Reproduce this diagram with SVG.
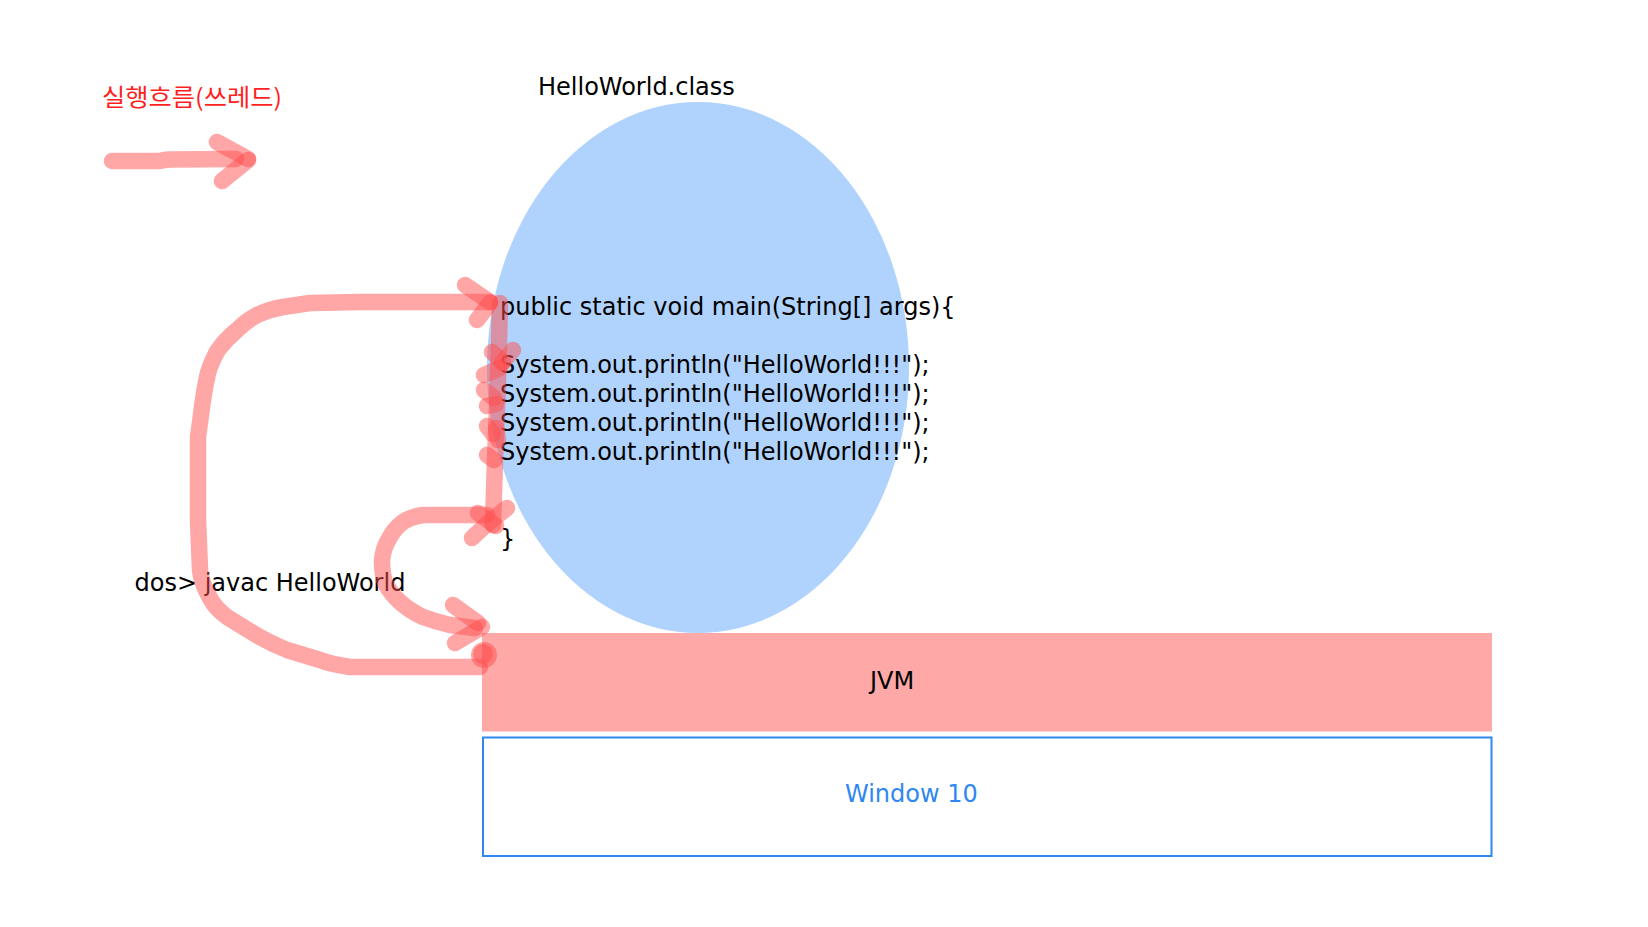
<svg xmlns="http://www.w3.org/2000/svg" width="1648" height="927" viewBox="0 0 1648 927">
<style>
text{font-family:"DejaVu Sans","Noto Sans CJK KR",sans-serif;font-size:24px;fill:#000}
.kr{font-family:"Noto Sans CJK KR","DejaVu Sans",sans-serif;fill:#ff1f1f}
.blue{fill:#2f88f0}
.flow{fill:none;stroke:#ff4d4d;stroke-opacity:0.5;stroke-width:16.5;stroke-linecap:round;stroke-linejoin:round}
.dot{fill:#ff4d4d;fill-opacity:0.5}
</style>
<rect width="1648" height="927" fill="#fff"/>
<g id="legend">
<text class="kr" x="102" y="106" textLength="180" lengthAdjust="spacingAndGlyphs">실행흐름(쓰레드)</text>
</g>
<g id="class-file">
<ellipse cx="698" cy="367.5" rx="211" ry="265.5" fill="#b0d3fd"/>
<text x="538" y="95">HelloWorld.class</text>
<text x="500" y="315">public static void main(String[] args){</text>
<text x="500" y="373">System.out.println("HelloWorld!!!");</text>
<text x="500" y="402">System.out.println("HelloWorld!!!");</text>
<text x="500" y="431">System.out.println("HelloWorld!!!");</text>
<text x="500" y="460">System.out.println("HelloWorld!!!");</text>
<text x="500" y="547">}</text>
</g>
<g id="jvm">
<rect x="482" y="633" width="1010" height="98.5" fill="#ffa8a8"/>
<text x="870" y="689">JVM</text>
</g>
<g id="windows">
<rect x="483" y="737.5" width="1008.5" height="118.5" fill="none" stroke="#2f88f0" stroke-width="2"/>
<text class="blue" x="845" y="801.5">Window 10</text>
</g>
<g id="dos">
<text x="134.5" y="591">dos&gt; javac HelloWorld</text>
</g>
<g id="connectors">
<path class="flow" d="M112 161 L160 161 Q163 160 170 159.5 L236 159"/>
<path class="flow" d="M217 142 L248 159"/>
<path class="flow" d="M222 181 L248 160"/>
<path class="flow" d="M480 667 L350 667 Q330 664 320 660 L287 650 Q268 642 253 633 L227 617 Q215 608 210 598 Q201 582 200 570 L198 520 L198 437 L201 415 Q204 390 208 373 Q212 360 218 350 Q226 339 237 330 Q246 321 257 315 Q270 309 283 307 L310 303 L360 302 L490 302"/>
<path class="flow" d="M465 285 L490 302"/>
<path class="flow" d="M477 320 L490 303"/>
<path class="flow" d="M500 303 L498 380 L495 460 L493 525"/>
<path class="flow" d="M492 352 L503 362"/>
<path class="flow" d="M513 350 L502 363"/>
<path class="flow" d="M484 375 L500 368"/>
<path class="flow" d="M484 390 L494 398"/>
<path class="flow" d="M487 406 L496 404"/>
<path class="flow" d="M487 426 L493 434"/>
<path class="flow" d="M496 428 L498 440"/>
<path class="flow" d="M487 455 L494 460"/>
<path class="flow" d="M487 515 L423 515 Q410 517 403 522 Q394 529 390 537 Q383 548 382 560 Q382 573 385 583 Q391 594 400 602 Q410 611 423 617 Q437 622 450 625 L475 628"/>
<path class="flow" d="M507 508 L488 523 L472 538"/>
<path class="flow" d="M478 513 L496 526"/>
<path class="flow" d="M453 605 L478 623"/>
<path class="flow" d="M455 643 L482 627"/>
<circle class="dot" cx="484" cy="655" r="13"/>
<circle class="dot" cx="483" cy="654" r="10"/>
</g>
</svg>
